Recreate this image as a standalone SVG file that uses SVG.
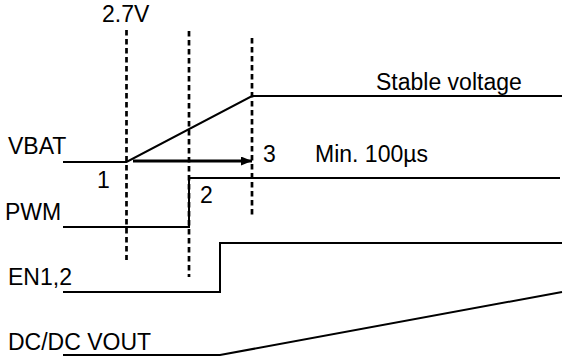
<svg xmlns="http://www.w3.org/2000/svg" width="565" height="358" viewBox="0 0 565 358">
  <style>
    text { font-family: "Liberation Sans", Arial, sans-serif; font-size: 23px; fill: #000; }
    .sig { fill: none; stroke: #000; stroke-width: 2; stroke-linejoin: miter; }
    .dash { fill: none; stroke: #000; stroke-width: 2.7; stroke-dasharray: 5.5 3.5; }
    .arrow { fill: none; stroke: #000; stroke-width: 3; }
  </style>
  <defs>
    <marker id="ah" markerWidth="12" markerHeight="9" refX="11" refY="4.5" orient="auto" markerUnits="userSpaceOnUse">
      <path d="M0,0 L11,4.5 L0,9 Z" fill="#000"/>
    </marker>
  </defs>
  <rect width="565" height="358" fill="#fff"/>

  <g id="vbat">
    <polyline class="sig" points="63,162 126.5,162 252,96 562,96"/>
    <text x="8" y="154">VBAT</text>
    <text x="376" y="90">Stable voltage</text>
  </g>
  <g id="pwm">
    <polyline class="sig" points="63,227 189,227 189,178 560,178"/>
    <text x="5" y="220">PWM</text>
  </g>
  <g id="en">
    <polyline class="sig" points="63,292 220,292 220,243 562,243"/>
    <text x="8" y="285">EN1,2</text>
  </g>
  <g id="dcdc">
    <polyline class="sig" points="63,355 220,355 562,292"/>
    <text x="8" y="350">DC/DC VOUT</text>
  </g>
  <g id="labels">
    <text x="102" y="22">2.7V</text>
    <text x="97" y="188">1</text>
    <text x="200" y="203">2</text>
    <text x="263" y="162">3</text>
    <text x="315" y="162">Min. 100µs</text>
  </g>
  <g id="connectors">
    <line class="dash" x1="126.5" y1="30" x2="126.5" y2="260"/>
    <line class="dash" x1="189" y1="31" x2="189" y2="277"/>
    <line class="dash" x1="252" y1="38" x2="252" y2="215"/>
    <line class="arrow" x1="133" y1="161" x2="252" y2="161" marker-end="url(#ah)"/>
  </g>
</svg>
